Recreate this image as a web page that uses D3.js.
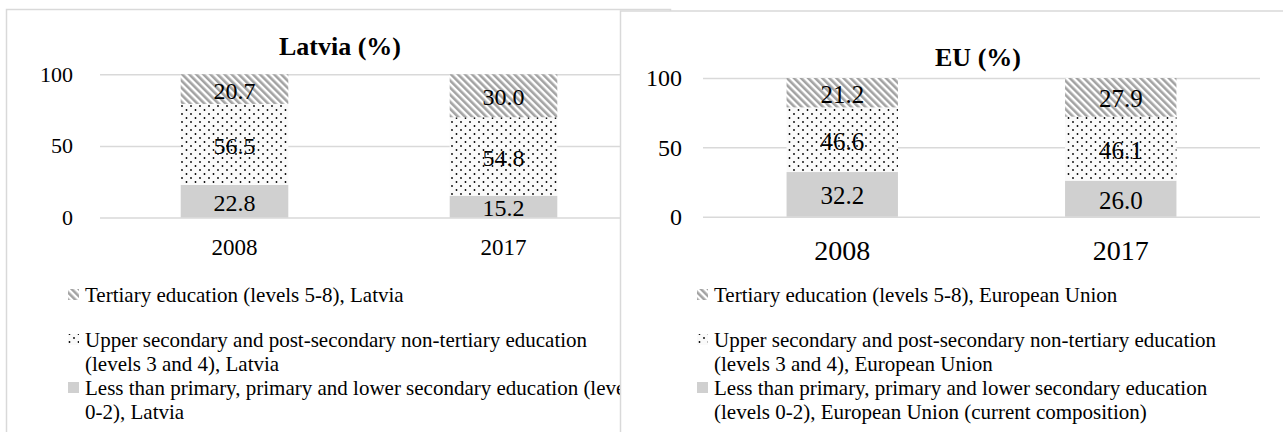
<!DOCTYPE html>
<html>
<head>
<meta charset="utf-8">
<script src="https://cdnjs.cloudflare.com/ajax/libs/d3/7.8.5/d3.min.js"></script>
<style>
    body { margin: 0; background: #fff; }
    svg text { font-family: "Liberation Serif", Tinos, "Times New Roman", "DejaVu Serif", serif; fill: #000; }
</style>
</head>
<body>
<div id="chart"></div>
<script>
// Data
var years = ["2008", "2017"];
var latviaLow = [22.8, 15.2];
var latviaUpper = [56.5, 54.8];
var latviaTertiary = [20.7, 30.0];
var euLow = [32.2, 26.0];
var euUpper = [46.6, 46.1];
var euTertiary = [21.2, 27.9];
var yTicks = [0, 50, 100];
var latviaLegend = [
    ["Tertiary education (levels 5-8), Latvia"],
    ["Upper secondary and post-secondary non-tertiary education", "(levels 3 and 4), Latvia"],
    ["Less than primary, primary and lower secondary education (levels", "0-2), Latvia"]
];
var euLegend = [
    ["Tertiary education (levels 5-8), European Union"],
    ["Upper secondary and post-secondary non-tertiary education", "(levels 3 and 4), European Union"],
    ["Less than primary, primary and lower secondary education", "(levels 0-2), European Union (current composition)"]
];

var svgWidth = 1283;
var svgHeight = 432;
var serif = '"Liberation Serif", Tinos, "Times New Roman", "DejaVu Serif", serif';
var keys = ["low", "upper", "tertiary"];
var fills = { low: "#d0d0d0", upper: "url(#dots)", tertiary: "url(#hatch)" };

var svg = d3.select("#chart")
    .append("svg")
    .attr("width", svgWidth)
    .attr("height", svgHeight)
    .attr("font-family", serif);

// Patterns
var defs = svg.append("defs");
var hatch = defs.append("pattern")
    .attr("id", "hatch")
    .attr("patternUnits", "userSpaceOnUse")
    .attr("width", 5)
    .attr("height", 5)
    .attr("patternTransform", "rotate(-45)");
hatch.append("rect").attr("width", 5).attr("height", 5).attr("fill", "#fff");
hatch.append("rect").attr("width", 2.6).attr("height", 5).attr("fill", "#a3a3a3");

var dots = defs.append("pattern")
    .attr("id", "dots")
    .attr("patternUnits", "userSpaceOnUse")
    .attr("width", 9)
    .attr("height", 8);
dots.append("rect").attr("width", 9).attr("height", 8).attr("fill", "#fafafa");
dots.append("circle").attr("cx", 2).attr("cy", 2).attr("r", 0.9).attr("fill", "#000");
dots.append("circle").attr("cx", 6.5).attr("cy", 6).attr("r", 0.9).attr("fill", "#000");

function buildRows(low, upper, tertiary) {
    return years.map(function(year, i) {
        return { year: year, low: low[i], upper: upper[i], tertiary: tertiary[i] };
    });
}

function drawPanel(opt) {
    var g = svg.append("g");

    // panel frame
    g.append("rect")
        .attr("x", opt.frame[0])
        .attr("y", opt.frame[1])
        .attr("width", opt.frame[2])
        .attr("height", opt.frame[3])
        .attr("fill", "#fff")
        .attr("stroke", "#d9d9d9")
        .attr("stroke-width", 1.5);

    var rows = buildRows(opt.low, opt.upper, opt.tertiary);
    var series = d3.stack().keys(keys)(rows);

    var x = d3.scaleBand()
        .domain(years)
        .range(opt.xRange)
        .paddingInner(0.6)
        .paddingOuter(0.3);
    var y = d3.scaleLinear()
        .domain([0, 100])
        .range(opt.yRange);

    // gridlines + y labels
    var yAxis = g.append("g")
        .attr("transform", `translate(${opt.xRange[0]}, 0)`)
        .call(d3.axisLeft(y)
            .tickValues(yTicks)
            .tickSize(-(opt.xRange[1] - opt.xRange[0]))
            .tickPadding(opt.tickPad));
    yAxis.attr("font-family", serif).attr("font-size", opt.tickSize);
    yAxis.select(".domain").remove();
    yAxis.selectAll("line").attr("stroke", "#d9d9d9").attr("stroke-width", 1.5);
    yAxis.selectAll("text").attr("fill", "#000");

    // stacked bars
    var layers = g.selectAll(".layer")
        .data(series)
        .enter()
        .append("g")
        .attr("fill", d => fills[d.key]);
    layers.selectAll("rect")
        .data(d => d)
        .enter()
        .append("rect")
        .attr("x", d => x(d.data.year))
        .attr("y", d => y(d[1]))
        .attr("width", x.bandwidth())
        .attr("height", d => y(d[0]) - y(d[1]));

    // value labels
    layers.selectAll("text")
        .data(d => d.map(v => ({ v: v, val: v[1] - v[0] })))
        .enter()
        .append("text")
        .attr("x", d => x(d.v.data.year) + x.bandwidth() / 2)
        .attr("y", d => (y(d.v[0]) + y(d.v[1])) / 2)
        .attr("dy", "0.4em")
        .attr("text-anchor", "middle")
        .style("font-size", opt.labelSize + "px")
        .text(d => d3.format(".1f")(d.val));

    // category labels
    var xAxis = g.append("g")
        .attr("transform", `translate(0, ${opt.yRange[0]})`)
        .call(d3.axisBottom(x).tickSize(0).tickPadding(opt.catPad));
    xAxis.attr("font-family", serif).attr("font-size", opt.catSize);
    xAxis.select(".domain").remove();
    xAxis.selectAll("text").attr("fill", "#000");

    // title
    g.append("text")
        .attr("x", opt.titleX)
        .attr("y", opt.titleY)
        .attr("text-anchor", "middle")
        .style("font-size", "26px")
        .style("font-weight", "bold")
        .text(opt.title);

    // legend
    var legendFills = [fills.tertiary, fills.upper, fills.low];
    var baselines = [[302], [347, 371], [395, 419]];
    opt.legend.forEach(function(lines, i) {
        g.append("rect")
            .attr("x", opt.legendX - 17)
            .attr("y", baselines[i][0] - 13)
            .attr("width", 11)
            .attr("height", 11)
            .attr("fill", legendFills[i]);
        lines.forEach(function(line, j) {
            g.append("text")
                .attr("x", opt.legendX)
                .attr("y", baselines[i][j])
                .style("font-size", "21px")
                .text(line);
        });
    });
}

// Latvia panel (partly covered by the EU panel)
drawPanel({
    frame: [6.5, 9.5, 664, 440],
    low: latviaLow, upper: latviaUpper, tertiary: latviaTertiary,
    xRange: [100, 638], yRange: [217.5, 74.3],
    tickPad: 27, tickSize: 22, labelSize: 24, catSize: 23, catPad: 21,
    title: "Latvia (%)", titleX: 340, titleY: 55,
    legend: latviaLegend, legendX: 85
});

// EU panel
drawPanel({
    frame: [620.5, 11, 700, 440],
    low: euLow, upper: euUpper, tertiary: euTertiary,
    xRange: [703, 1260], yRange: [216.7, 78],
    tickPad: 21, tickSize: 24, labelSize: 25, catSize: 28, catPad: 23,
    title: "EU (%)", titleX: 978, titleY: 66,
    legend: euLegend, legendX: 714
});
</script>
</body>
</html>
